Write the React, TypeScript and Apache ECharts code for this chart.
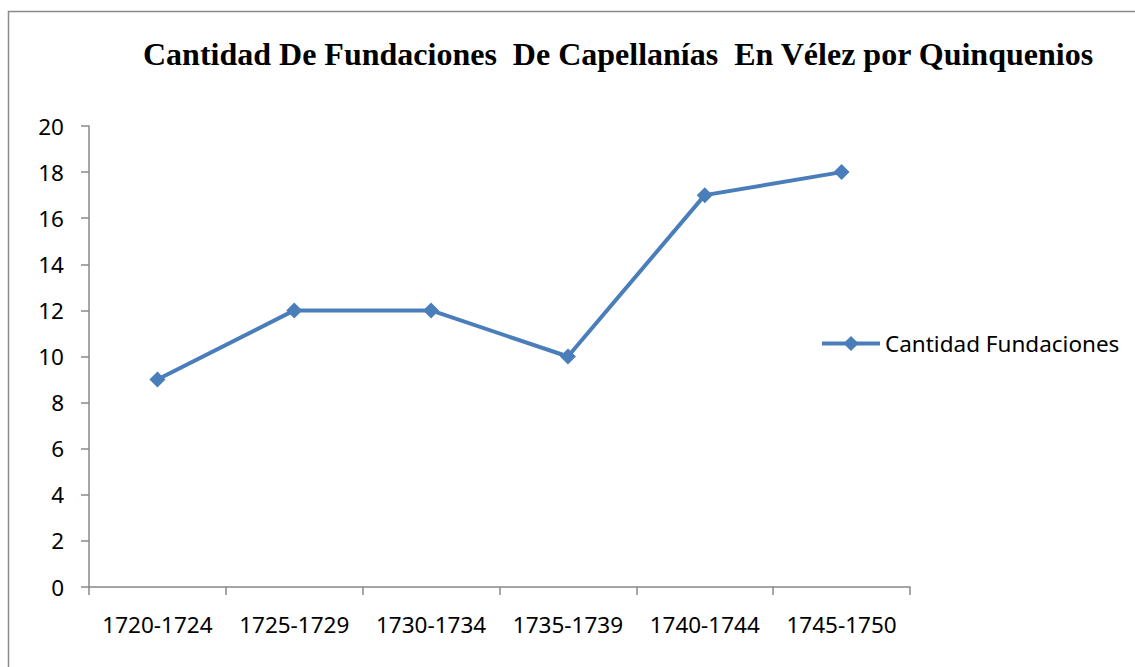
import React, { useEffect, useRef } from "react";
import * as echarts from "echarts";

const categories = ["1720-1724", "1725-1729", "1730-1734", "1735-1739", "1740-1744", "1745-1750"];
const values = [9, 12, 12, 10, 17, 18];
const seriesName = "Cantidad Fundaciones";
const titleText = "Cantidad De Fundaciones  De Capellanías  En Vélez por Quinquenios";

export default function App() {
  const ref = useRef<HTMLDivElement>(null);
  useEffect(() => {
    const chart = echarts.init(ref.current!, null, { renderer: "svg" });
    const axisColor = "#888888";
    const labelFont = { fontFamily: "'Noto Sans', sans-serif", fontSize: 22.5, color: "#000" };
    chart.setOption({
      animation: false,
      backgroundColor: "#fff",
      title: {
        text: titleText,
        left: 143,
        top: 38,
        padding: 0,
        textStyle: {
          fontFamily: "'Liberation Serif', 'Times New Roman', serif",
          fontWeight: "bold",
          fontSize: 32,
          color: "#000",
          lineHeight: 32,
        },
      },
      graphic: [
        {
          type: "rect",
          shape: { x: 8.5, y: 11.5, width: 1200, height: 700 },
          style: { fill: "none", stroke: "#8a8a8a", lineWidth: 1.5 },
          silent: true,
        },
      ],
      legend: {
        data: [seriesName],
        left: 820,
        top: 332,
        itemWidth: 58,
        itemHeight: 19,
        itemGap: 4,
        lineStyle: { width: 4 },
        textStyle: { ...labelFont },
        padding: 0,
      },
      grid: { left: 89, right: 225, top: 126, bottom: 80, containLabel: false },
      xAxis: {
        type: "category",
        data: categories,
        boundaryGap: true,
        axisLine: { lineStyle: { color: axisColor, width: 1.5 } },
        axisTick: { show: true, length: 8, alignWithLabel: false, lineStyle: { color: axisColor, width: 1.5 } },
        axisLabel: { ...labelFont, margin: 26, interval: 0 },
        splitLine: { show: false },
      },
      yAxis: {
        type: "value",
        min: 0,
        max: 20,
        interval: 2,
        axisLine: { show: true, lineStyle: { color: axisColor, width: 1.5 } },
        axisTick: { show: true, length: 8, lineStyle: { color: axisColor, width: 1.5 } },
        axisLabel: { ...labelFont, margin: 25 },
        splitLine: { show: false },
      },
      series: [
        {
          name: seriesName,
          type: "line",
          data: values,
          symbol: "diamond",
          symbolSize: 16,
          lineStyle: { color: "#4A7EBB", width: 4 },
          itemStyle: { color: "#4A7EBB" },
        },
      ],
    });
    return () => chart.dispose();
  }, []);
  return (
    <div
      ref={ref}
      style={{ position: "absolute", left: 0, top: 0, width: 1135, height: 667 }}
    />
  );
}
